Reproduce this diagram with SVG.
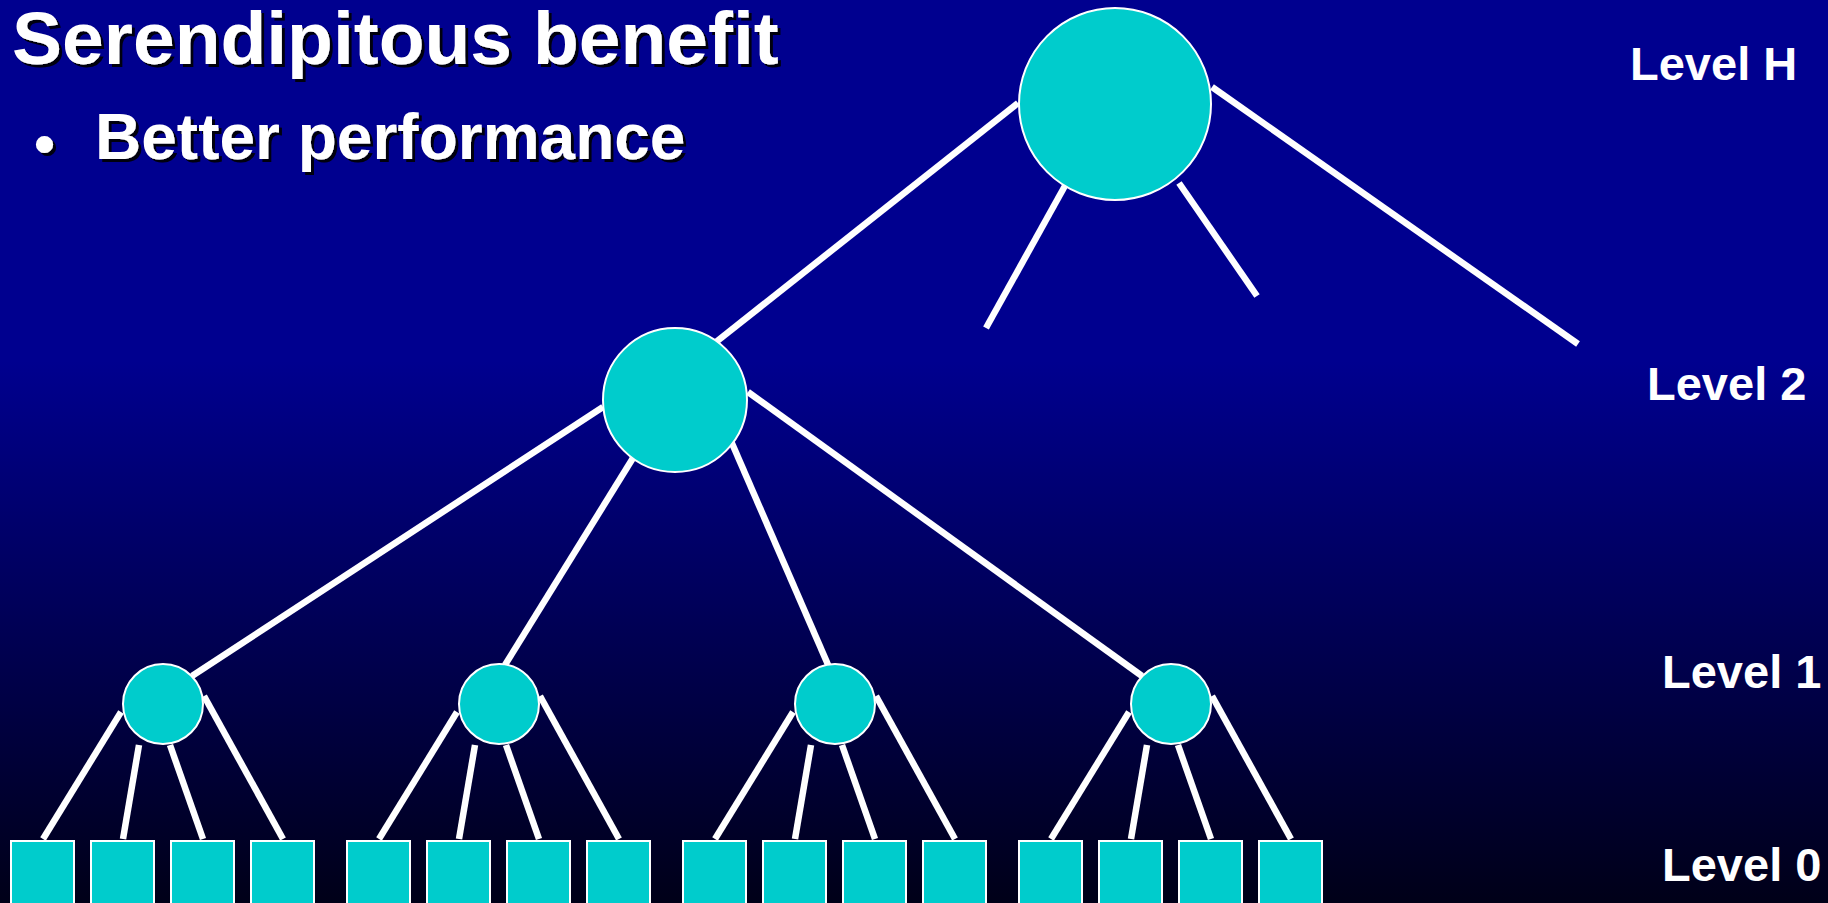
<svg xmlns="http://www.w3.org/2000/svg" width="1828" height="903" viewBox="0 0 1828 903">
  <defs>
    <linearGradient id="bg" x1="0" y1="0" x2="0" y2="1">
      <stop offset="0" stop-color="#00008F"/>
      <stop offset="0.4" stop-color="#00008F"/>
      <stop offset="1" stop-color="#000018"/>
    </linearGradient>
    <filter id="shadow" x="-5%" y="-20%" width="110%" height="140%">
      <feDropShadow dx="3" dy="3" stdDeviation="0" flood-color="#000000" flood-opacity="0.9"/>
    </filter>
  </defs>
  <style>
    .edge { stroke: #FFFFFF; stroke-width: 6.5; stroke-linecap: butt; fill: none; }
    .node { fill: #00CCCC; stroke: #FFFFFF; stroke-width: 2; }
    .title { font-family: "Liberation Sans", Arial, sans-serif; font-weight: bold; fill: #FFFFFF; }
    .level { font-family: "Liberation Sans", Arial, sans-serif; font-weight: bold; font-size: 47px; fill: #FFFFFF; }
  </style>

  <rect x="0" y="0" width="1828" height="903" fill="url(#bg)"/>

  <!-- heading and bullet -->
  <g id="heading" filter="url(#shadow)">
    <text class="title" x="12" y="64" font-size="75">Serendipitous benefit</text>
    <text class="title" x="34" y="164" font-size="60">•</text>
    <text class="title" x="95" y="159" font-size="64">Better performance</text>
  </g>

  <!-- level labels -->
  <g id="levels">
    <text class="level" x="1630" y="80">Level H</text>
    <text class="level" x="1647" y="400">Level 2</text>
    <text class="level" x="1662" y="688">Level 1</text>
    <text class="level" x="1662" y="881">Level 0</text>
  </g>

  <!-- tree edges -->
  <g id="connectors">
    <!-- root -->
    <line class="edge" x1="1018" y1="103" x2="716" y2="342"/>
    <line class="edge" x1="1066" y1="184" x2="986" y2="328"/>
    <line class="edge" x1="1179" y1="183" x2="1257" y2="296"/>
    <line class="edge" x1="1212" y1="87" x2="1578" y2="344"/>
    <!-- level 2 -->
    <line class="edge" x1="603" y1="407" x2="192" y2="676"/>
    <line class="edge" x1="633" y1="458" x2="505" y2="665"/>
    <line class="edge" x1="731" y1="441" x2="829" y2="667"/>
    <line class="edge" x1="748" y1="392" x2="1142" y2="676"/>
    <!-- level 1, group 1 (cx 163) -->
    <line class="edge" x1="121" y1="712" x2="43" y2="839"/>
    <line class="edge" x1="139" y1="745" x2="123" y2="839"/>
    <line class="edge" x1="170" y1="745" x2="203" y2="839"/>
    <line class="edge" x1="204" y1="696" x2="283" y2="839"/>
    <!-- level 1, group 2 (cx 499) -->
    <line class="edge" x1="457" y1="712" x2="379" y2="839"/>
    <line class="edge" x1="475" y1="745" x2="459" y2="839"/>
    <line class="edge" x1="506" y1="745" x2="539" y2="839"/>
    <line class="edge" x1="540" y1="696" x2="619" y2="839"/>
    <!-- level 1, group 3 (cx 835) -->
    <line class="edge" x1="793" y1="712" x2="715" y2="839"/>
    <line class="edge" x1="811" y1="745" x2="795" y2="839"/>
    <line class="edge" x1="842" y1="745" x2="875" y2="839"/>
    <line class="edge" x1="876" y1="696" x2="955" y2="839"/>
    <!-- level 1, group 4 (cx 1171) -->
    <line class="edge" x1="1129" y1="712" x2="1051" y2="839"/>
    <line class="edge" x1="1147" y1="745" x2="1131" y2="839"/>
    <line class="edge" x1="1178" y1="745" x2="1211" y2="839"/>
    <line class="edge" x1="1212" y1="696" x2="1291" y2="839"/>
  </g>

  <!-- level H -->
  <g id="root"><circle class="node" cx="1115" cy="104" r="96"/></g>

  <!-- level 2 -->
  <g id="l2"><circle class="node" cx="675" cy="400" r="72"/></g>

  <!-- level 1 -->
  <g id="l1-a"><circle class="node" cx="163" cy="704" r="40"/></g>
  <g id="l1-b"><circle class="node" cx="499" cy="704" r="40"/></g>
  <g id="l1-c"><circle class="node" cx="835" cy="704" r="40"/></g>
  <g id="l1-d"><circle class="node" cx="1171" cy="704" r="40"/></g>

  <!-- level 0 leaves -->
  <g id="leaf-1"><rect class="node" x="11" y="841" width="63" height="70"/></g>
  <g id="leaf-2"><rect class="node" x="91" y="841" width="63" height="70"/></g>
  <g id="leaf-3"><rect class="node" x="171" y="841" width="63" height="70"/></g>
  <g id="leaf-4"><rect class="node" x="251" y="841" width="63" height="70"/></g>
  <g id="leaf-5"><rect class="node" x="347" y="841" width="63" height="70"/></g>
  <g id="leaf-6"><rect class="node" x="427" y="841" width="63" height="70"/></g>
  <g id="leaf-7"><rect class="node" x="507" y="841" width="63" height="70"/></g>
  <g id="leaf-8"><rect class="node" x="587" y="841" width="63" height="70"/></g>
  <g id="leaf-9"><rect class="node" x="683" y="841" width="63" height="70"/></g>
  <g id="leaf-10"><rect class="node" x="763" y="841" width="63" height="70"/></g>
  <g id="leaf-11"><rect class="node" x="843" y="841" width="63" height="70"/></g>
  <g id="leaf-12"><rect class="node" x="923" y="841" width="63" height="70"/></g>
  <g id="leaf-13"><rect class="node" x="1019" y="841" width="63" height="70"/></g>
  <g id="leaf-14"><rect class="node" x="1099" y="841" width="63" height="70"/></g>
  <g id="leaf-15"><rect class="node" x="1179" y="841" width="63" height="70"/></g>
  <g id="leaf-16"><rect class="node" x="1259" y="841" width="63" height="70"/></g>
</svg>
